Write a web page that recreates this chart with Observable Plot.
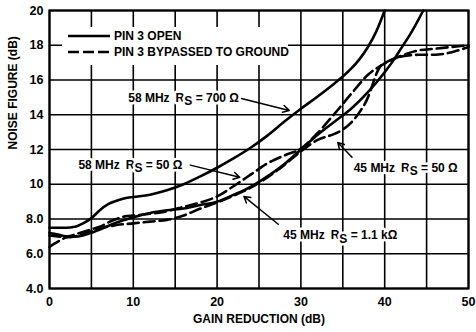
<!DOCTYPE html>
<html>
<head>
<meta charset="utf-8">
<script src="https://cdn.jsdelivr.net/npm/d3@7"></script>
<script src="https://cdn.jsdelivr.net/npm/@observablehq/plot@0.6"></script>
<style>
  body { margin: 0; background: #fff; }
  #wrap { position: relative; width: 476px; height: 332px; font-family: "Liberation Sans", Arial, sans-serif; }
  #wrap svg.chart { position: absolute; left: 0; top: 0; }
  #legend { position: absolute; left: 62px; top: 27px; width: 226px; height: 38px; background: #fff;
            font-weight: bold; font-size: 12px; color: #000; }
  #legend .row { position: absolute; left: 6px; height: 14px; display: flex; align-items: center; white-space: nowrap; }
  #legend svg { display: block; margin-right: 2px; }
</style>
</head>
<body>
<div id="wrap"><div id="legend"></div></div>
<script>
// ---- data ----
const xTicks = [0, 10, 20, 30, 40, 50];
const xTickLabels = ["0", "10", "20", "30", "40", "50"];
const yTicks = [4, 6, 8, 10, 12, 14, 16, 18, 20];
const yTickLabels = ["4.0", "6.0", "8.0", "10", "12", "14", "16", "18", "20"];
const xGrid = [0, 5, 10, 15, 20, 25, 30, 35, 40, 45, 50];
const yGrid = [4, 6, 8, 10, 12, 14, 16, 18, 20];

// Pin 3 open, 58 MHz Rs = 700 ohm (solid)
const gr58_700 = [0, 2, 3, 4, 5, 6, 7, 8, 9, 10, 12, 14, 16, 18, 20, 22, 24, 26, 28, 30, 32, 34, 35, 36, 37, 38, 39, 40];
const nf58_700 = [7.5, 7.5, 7.55, 7.75, 8.05, 8.5, 8.85, 9.05, 9.2, 9.27, 9.4, 9.65, 10.0, 10.45, 10.95, 11.5, 12.1, 12.8, 13.6, 14.35, 15.05, 15.8, 16.2, 16.65, 17.2, 17.9, 18.8, 20];

// Pin 3 open, 45 MHz Rs = 1.1 kohm (solid)
const gr45_1k1 = [0, 1, 2, 3, 4, 5, 6, 7, 8, 9, 10, 12, 14, 16, 18, 20, 22, 24, 26, 28, 30, 32, 34, 36, 38, 40, 41, 42, 43, 44, 44.6];
const nf45_1k1 = [7.2, 7.1, 7.0, 6.98, 7.05, 7.2, 7.4, 7.6, 7.8, 7.95, 8.1, 8.35, 8.5, 8.6, 8.8, 9.0, 9.4, 9.85, 10.45, 11.15, 12.0, 12.85, 13.6, 14.35, 15.3, 16.45, 17.1, 17.85, 18.6, 19.45, 20];

// Pin 3 bypassed, 58 MHz Rs = 50 ohm (dashed)
const gr58_50 = [0, 1, 2, 3, 4, 5, 6, 7, 8, 9, 10, 12, 14, 16, 18, 20, 22, 24, 26, 28, 30, 32, 34, 36, 38, 40, 42, 44, 46, 48, 50];
const nf58_50 = [6.4, 6.7, 6.95, 7.1, 7.25, 7.4, 7.55, 7.8, 8.0, 8.15, 8.2, 8.3, 8.45, 8.7, 8.95, 9.3, 9.9, 10.55, 11.2, 11.65, 12.05, 12.95, 14.05, 15.2, 16.3, 16.95, 17.4, 17.7, 17.8, 17.9, 18.0];

// Pin 3 bypassed, 45 MHz Rs = 50 ohm (dashed)
const gr45_50 = [0, 1, 2, 3, 4, 5, 6, 8, 10, 12, 14, 15, 16, 18, 20, 22, 24, 26, 28, 30, 32, 34, 35, 36, 37, 38, 38.6, 39, 39.5, 40.5, 42, 44, 46, 48, 50];
const nf45_50 = [7.05, 7.0, 6.95, 7.0, 7.15, 7.3, 7.45, 7.65, 7.75, 7.85, 7.95, 8.05, 8.2, 8.6, 8.95, 9.35, 9.8, 10.4, 11.1, 11.9, 12.55, 12.9, 13.15, 13.55, 14.15, 15.0, 15.8, 16.35, 16.8, 17.1, 17.35, 17.45, 17.45, 17.6, 17.9];

// annotations
const annoText = ["58 MHz\u2002RS = 700 \u03A9", "58 MHz\u2002RS = 50 \u03A9", "45 MHz\u2002RS = 50 \u03A9", "45 MHz\u2002RS = 1.1 k\u03A9"];
const annoX = [9.4, 3.45, 36.3, 27.9];
const annoY = [14.97, 11.12, 10.95, 7.05];
const arrowX1 = [22.9, 16.8, 36.1, 27.3];
const arrowY1 = [14.94, 11.1, 11.55, 7.7];
const arrowX2 = [28.6, 22.7, 34.4, 23.2];
const arrowY2 = [14.25, 10.4, 12.4, 9.3];

const legendLabels = ["PIN 3 OPEN", "PIN 3 BYPASSED TO GROUND"];
const xTitle = ["GAIN REDUCTION (dB)"];
const yTitle = ["NOISE FIGURE (dB)"];

// ---- build ----
const toPts = (xs, ys) => xs.map((x, i) => ({x, y: ys[i]}));
const solidSeries = [toPts(gr58_700, nf58_700), toPts(gr45_1k1, nf45_1k1)];
const dashedSeries = [toPts(gr58_50, nf58_50), toPts(gr45_50, nf45_50)];
const annos = annoText.map((t, i) => ({t, x: annoX[i], y: annoY[i]}));
const arrows = arrowX1.map((x1, i) => ({x1, y1: arrowY1[i], x2: arrowX2[i], y2: arrowY2[i]}));

const font = '"Liberation Sans", Arial, sans-serif';
const chart = Plot.plot({
  width: 476,
  height: 332,
  marginLeft: 49,
  marginRight: 8,
  marginTop: 10,
  marginBottom: 44,
  style: {fontFamily: font, fontSize: "12.5px", fontWeight: "bold", color: "#000", background: "#fff"},
  x: {domain: [0, 50], ticks: xTicks, tickSize: 0, tickPadding: 9, label: null,
      tickFormat: d => xTickLabels[xTicks.indexOf(d)]},
  y: {domain: [4, 20], ticks: yTicks, tickSize: 0, tickPadding: 6, label: null,
      tickFormat: d => yTickLabels[yTicks.indexOf(d)]},
  marks: [
    Plot.ruleX(xGrid, {stroke: "#000", strokeWidth: 1.6}),
    Plot.ruleY(yGrid, {stroke: "#000", strokeWidth: 1.6}),
    ...solidSeries.map(s => Plot.line(s, {x: "x", y: "y", curve: "monotone-x", stroke: "#000", strokeWidth: 2.6})),
    ...dashedSeries.map(s => Plot.line(s, {x: "x", y: "y", curve: "monotone-x", stroke: "#000", strokeWidth: 2.6, strokeDasharray: "11,5"})),
    Plot.arrow(arrows, {x1: "x1", y1: "y1", x2: "x2", y2: "y2", stroke: "#000", strokeWidth: 1.5, headLength: 7, bend: 0}),
    Plot.text(annos, {x: "x", y: "y", text: "t", textAnchor: "start", fill: "#000", stroke: "#fff", strokeWidth: 5, paintOrder: "stroke", fontSize: 12, fontWeight: "bold"}),
    Plot.frame({stroke: "#000", strokeWidth: 2.2}),
    Plot.text(xTitle, {frameAnchor: "bottom", dy: 34, fontSize: 12, fontWeight: "bold", fill: "#000"}),
    Plot.text(yTitle, {frameAnchor: "left", dx: -36, rotate: -90, fontSize: 12, fontWeight: "bold", fill: "#000"})
  ]
});
chart.classList.add("chart");

// subscript S in "RS"
d3.select(chart).selectAll("text").each(function () {
  const t = this.textContent;
  const i = t.indexOf("RS");
  if (i < 0 || this.querySelector("tspan")) return;
  this.textContent = "";
  const s = d3.select(this);
  s.append("tspan").text(t.slice(0, i + 1));
  s.append("tspan").attr("dy", "0.3em").text("S");
  s.append("tspan").attr("dy", "-0.3em").text(t.slice(i + 2));
});

const wrap = document.getElementById("wrap");
wrap.insertBefore(chart, wrap.firstChild);

// legend (inside plot area, white box)
const legend = document.getElementById("legend");
legendLabels.forEach((lab, i) => {
  const row = document.createElement("div");
  row.className = "row";
  row.style.top = (2 + i * 16) + "px";
  const dash = i === 0 ? "" : ' stroke-dasharray="11,4"';
  row.innerHTML = `<svg width="44" height="6"><line x1="0" y1="3" x2="42" y2="3" stroke="#000" stroke-width="2.6"${dash}/></svg><span>${lab}</span>`;
  legend.appendChild(row);
});
</script>
</body>
</html>
